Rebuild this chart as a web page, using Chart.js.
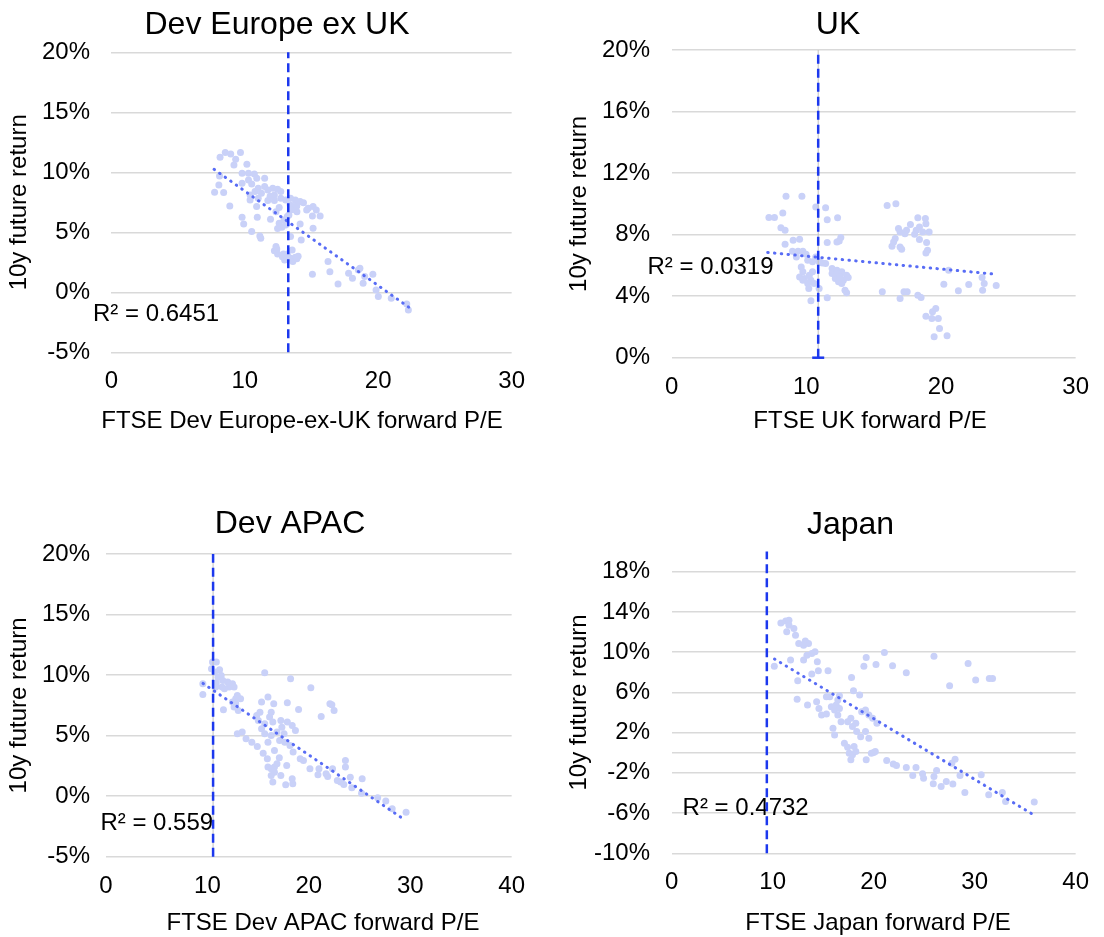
<!DOCTYPE html>
<html lang="en">
<head>
<meta charset="UTF-8">
<title>Forward P/E vs 10y future return</title>
<script src="https://cdn.jsdelivr.net/npm/chart.js"></script>
<style>
  body { margin: 0; background: #fff; }
  #page { position: relative; width: 1104px; height: 937px; }
  .panel { position: absolute; }
  canvas { display: block; }
</style>
</head>
<body>
<div id="page">
  <div class="panel" style="left:0px;top:0px"><canvas id="euro" width="540" height="440"></canvas></div>
  <div class="panel" style="left:560px;top:0px"><canvas id="uk" width="544" height="440"></canvas></div>
  <div class="panel" style="left:0px;top:460px"><canvas id="apac" width="540" height="477"></canvas></div>
  <div class="panel" style="left:560px;top:460px"><canvas id="japan" width="544" height="477"></canvas></div>
</div>

<script>
// ---- Dev Europe ex UK ----
const euroPE = [8.15, 8.54, 8.95, 9.32, 9.68, 9.19, 10.16, 8.11, 8.06, 7.74,
  8.42, 8.88, 9.8, 10.28, 10.72, 10.28, 9.8, 10.52, 11.01, 11.49,
  11.49, 11.25, 10.77, 10.4, 10.4, 11.01, 10.89, 11.73, 12.1, 12.46,
  12.7, 12.22, 11.73, 12.22, 12.7, 13.07, 13.43, 13.79, 14.15, 14.4,
  14.76, 15.12, 15.36, 15.65, 15.07, 14.64, 13.91, 13.67, 13.43, 13.31,
  13.19, 12.94, 12.58, 12.34, 9.8, 9.92, 10.94, 11.93, 12.58, 13.07,
  12.78, 12.46, 14.15, 15.12, 14.23, 13.43, 10.52, 11.13, 11.2, 12.34,
  12.22, 12.46, 12.82, 13.19, 13.55, 13.43, 13.79, 12.99, 13.6, 15.07,
  16.24, 16.38, 16.99, 17.78, 18.07, 18.51, 18.63, 18.99, 19.6, 18.87,
  19.84, 20.01, 20.98, 22.14, 22.26,
  13.4, 13.6, 13.9, 12.9, 13.3, 13.9, 14.0, 12.4, 11.9, 10.9];
const euroRet = [11.25, 11.64, 11.53, 11.08, 11.64, 10.61, 10.67, 9.69, 8.94, 8.33,
  8.31, 7.19, 9.92, 9.92, 9.86, 9.36, 9.08, 9.03, 8.67, 9.5,
  8.81, 8.25, 8.39, 8.11, 7.69, 7.83, 7.14, 8.53, 8.67, 8.58,
  8.39, 8.11, 7.64, 7.64, 7.83, 7.69, 7.83, 7.69, 7.56, 7.47,
  7.0, 7.14, 6.86, 6.36, 6.36, 6.86, 6.72, 7.14, 6.86, 6.44,
  6.31, 6.03, 7.06, 6.72, 6.25, 5.69, 6.25, 6.08, 5.75, 5.61,
  5.42, 5.31, 5.69, 5.33, 4.36, 4.64, 5.06, 4.69, 4.5, 3.81,
  3.47, 3.19, 2.97, 3.19, 3.53, 2.83, 2.92, 2.69, 2.56, 1.5,
  2.56, 1.72, 0.69, 1.58, 1.17, 1.86, 2.0, 1.31, 1.5, 0.75,
  0.19, -0.36, -0.5, -0.97, -1.47,
  7.3, 6.9, 7.2, 3.2, 2.9, 2.8, 3.0, 3.6, 8.0, 9.5];
const euroTrendPE = [7.7, 22.3];
const euroTrendRet = [10.25, -1.25];
const euroNowPE = 13.26;
const euroTicks = [-5, 0, 5, 10, 15, 20];

// ---- UK ----
const ukPE = [8.49, 9.67, 8.25, 7.22, 7.63, 8.11, 8.42, 8.42, 9.02, 9.5,
  8.97, 9.38, 9.74, 9.98, 9.26, 10.7, 11.43, 11.55, 12.32, 11.55,
  12.27, 12.56, 12.44, 10.7, 10.95, 10.46, 10.1, 11.19, 11.43, 9.62,
  9.74, 9.5, 9.86, 10.22, 10.46, 10.34, 10.1, 9.74, 10.18, 10.58,
  10.95, 10.34, 11.55, 11.91, 12.27, 12.63, 12.99, 13.11, 12.75, 12.39,
  12.15, 11.91, 12.63, 12.87, 12.99, 12.27, 12.51, 16.0, 16.65, 16.84,
  17.44, 17.73, 18.28, 18.84, 18.88, 18.4, 18.64, 19.12, 18.16, 18.04,
  17.32, 16.96, 16.6, 16.48, 16.36, 16.96, 17.08, 18.4, 18.93, 19.0,
  18.88, 15.64, 16.96, 17.25, 17.49, 18.28, 18.52, 20.21, 21.29, 22.06,
  23.09, 23.21, 23.05, 24.1, 20.57, 19.61, 19.37, 18.88, 19.32, 19.8,
  19.89, 19.49, 20.45];
const ukRet = [10.49, 10.49, 9.41, 9.11, 9.11, 8.45, 8.28, 7.37, 7.63, 7.7,
  6.92, 6.92, 6.92, 6.72, 6.55, 9.79, 9.75, 8.97, 9.1, 7.48,
  7.52, 7.81, 7.59, 6.55, 6.23, 6.23, 6.34, 6.16, 6.12, 5.9,
  5.58, 5.25, 5.15, 5.36, 5.58, 5.04, 4.82, 5.04, 4.5, 4.82,
  4.5, 3.7, 3.89, 5.79, 5.69, 5.58, 5.36, 5.21, 5.04, 4.93,
  5.15, 5.47, 4.82, 4.39, 4.22, 5.47, 5.25, 9.9, 10.01, 8.39,
  8.28, 8.65, 9.1, 9.04, 8.71, 8.5, 8.17, 8.17, 8.28, 8.02,
  8.06, 8.17, 7.74, 7.52, 7.24, 7.2, 7.05, 7.68, 7.48, 6.98,
  6.81, 4.28, 3.85, 4.28, 4.28, 4.06, 3.91, 4.78, 4.35, 4.76,
  4.39, 4.82, 5.21, 4.69, 5.69, 3.2, 2.98, 2.7, 2.55, 2.55,
  1.9, 1.36, 1.43];
const ukTrendPE = [7.13, 24.0];
const ukTrendRet = [6.84, 5.43];
const ukNowPE = 10.88;
const ukTicks = [0, 4, 8, 12, 16, 20];

// ---- Dev APAC ----
const apacPE = [9.55, 9.55, 10.5, 10.88, 10.4, 10.72, 11.2, 11.04, 11.36, 11.52,
  12.0, 12.47, 12.63, 12.15, 11.68, 11.45, 10.88, 10.82, 12.95, 13.27,
  12.79, 12.47, 12.63, 13.04, 11.58, 12.79, 15.65, 18.2, 20.2, 15.34,
  15.97, 16.54, 15.18, 14.86, 15.02, 16.29, 16.13, 15.65, 15.34, 15.65,
  16.45, 17.24, 17.88, 18.36, 18.68, 17.88, 18.99, 17.34, 17.56, 16.86,
  16.29, 15.97, 16.61, 17.12, 17.63, 18.14, 18.45, 19.15, 19.47, 12.95,
  13.43, 13.81, 14.38, 14.92, 15.5, 15.91, 15.97, 16.29, 16.61, 16.86,
  17.09, 17.82, 16.61, 16.29, 17.24, 16.45, 17.72, 18.42, 18.36, 21.22,
  22.08, 22.27, 22.49, 20.11, 21.0, 20.9, 21.7, 21.86, 22.34, 22.81,
  23.13, 23.45, 23.61, 23.61, 24.09, 24.24, 25.26, 25.2, 26.79, 27.59,
  28.22, 29.59];
const apacRet = [9.28, 8.4, 11.07, 11.07, 10.52, 10.25, 10.44, 9.83, 9.97, 9.56,
  9.42, 9.28, 9.01, 9.01, 8.87, 9.01, 9.34, 9.01, 8.32, 8.04,
  8.04, 7.77, 7.36, 7.08, 7.13, 7.63, 10.19, 9.7, 8.95, 7.77,
  8.18, 7.63, 6.94, 6.67, 6.25, 6.94, 6.53, 5.98, 5.56, 5.15,
  6.12, 6.25, 6.12, 5.84, 5.43, 7.71, 7.16, 5.7, 5.15, 5.29,
  5.01, 4.46, 3.77, 4.6, 4.46, 4.19, 3.64, 3.09, 2.95, 5.15,
  5.29, 4.74, 4.46, 4.1, 3.55, 3.09, 2.4, 2.26, 2.4, 2.67,
  3.17, 2.53, 1.98, 1.71, 1.71, 1.16, 0.94, 1.02, 1.43, 6.58,
  7.63, 7.55, 7.08, 2.26, 2.26, 1.76, 1.85, 1.63, 2.26, 1.29,
  1.16, 0.96, 2.95, 2.4, 1.57, 0.69, 1.43, 0.25, -0.14, -0.41,
  -1.05, -1.32];
const apacTrendPE = [9.57, 29.5];
const apacTrendRet = [9.31, -1.98];
const apacNowPE = 10.56;
const apacTicks = [-5, 0, 5, 10, 15, 20];

// ---- Japan ----
const japanPE = [10.81, 11.29, 11.61, 11.61, 12.1, 11.39, 12.26, 12.58, 13.23, 13.55,
  13.06, 10.16, 11.77, 13.06, 13.39, 13.87, 14.19, 14.42, 14.52, 13.87,
  15.48, 12.48, 19.26, 19.03, 20.23, 21.06, 21.87, 23.23, 25.97, 29.35,
  30.1, 31.45, 31.77, 27.52, 17.81, 18.0, 18.61, 15.65, 16.61, 16.45,
  15.32, 12.42, 13.45, 14.35, 14.58, 14.84, 15.32, 15.81, 16.13, 16.29,
  16.61, 16.45, 16.77, 17.42, 17.74, 18.23, 17.9, 18.32, 15.97, 16.13,
  18.81, 19.19, 19.52, 19.9, 20.32, 19.19, 19.52, 18.71, 17.1, 17.42,
  17.58, 17.9, 18.06, 17.74, 18.23, 19.26, 19.77, 20.16, 20.0, 21.29,
  21.94, 22.26, 23.23, 24.19, 23.87, 24.94, 24.84, 25.97, 26.23, 25.9,
  26.68, 27.19, 27.84, 28.06, 27.74, 28.55, 29.03, 30.65, 31.39, 32.74,
  33.06, 35.9];
const japanRet = [12.91, 13.11, 13.17, 12.68, 12.35, 12.02, 11.69, 10.86, 11.12, 10.86,
  10.69, 8.61, 9.21, 9.21, 9.7, 9.87, 10.03, 9.04, 8.15, 7.82,
  8.15, 7.16, 9.47, 8.61, 8.78, 9.97, 8.64, 7.95, 9.6, 8.88,
  7.22, 7.39, 7.39, 6.66, 7.49, 6.17, 5.74, 5.57, 5.67, 5.24,
  5.57, 5.31, 4.74, 5.07, 4.41, 3.75, 3.85, 4.58, 4.25, 4.74,
  4.41, 3.75, 3.09, 3.09, 3.42, 2.93, 2.6, 2.1, 2.43, 1.77,
  4.08, 4.25, 3.75, 3.42, 2.93, 2.1, 1.44, 1.6, 0.94, 0.55,
  -0.05, -0.21, 0.61, -0.71, 0.12, -0.71, -0.05, 0.12, 0.02, -0.78,
  -1.11, -1.27, -1.47, -1.47, -2.26, -2.53, -2.1, -2.36, -1.77, -3.09,
  -3.36, -2.86, -3.12, -0.64, -1.04, -2.26, -3.95, -2.2, -4.18, -3.95,
  -4.84, -4.91];
const japanTrendPE = [10.18, 35.7];
const japanTrendRet = [9.32, -6.09];
const japanNowPE = 9.42;
const japanTicks = [-10, -6, -2, 0, 2, 6, 10, 14, 18]; // 0 = horizontal axis line, no label

const FONT = '"Liberation Sans", Arial, Helvetica, sans-serif';
Chart.defaults.font.family = FONT;
Chart.defaults.color = '#000';

const pointColor = '#c9d1f8';
const trendColor = 'rgb(88, 108, 245)';
const nowColor = 'rgb(28, 56, 238)';

// panel title, x axis title and the R² label
const decor = {
  id: 'decor',
  beforeDatasetsDraw(chart, args, o) {
    const { ctx, scales: { x, y } } = chart;
    ctx.save();
    ctx.font = '24px ' + FONT;
    ctx.fillStyle = '#000';
    ctx.textAlign = 'left';
    ctx.textBaseline = 'middle';
    ctx.fillText(o.r2Text, x.getPixelForValue(o.r2X), y.getPixelForValue(o.r2Y));
    ctx.restore();
  },
  afterDraw(chart, args, o) {
    const ctx = chart.ctx;
    ctx.save();
    ctx.fillStyle = '#000';
    ctx.textAlign = 'center';
    ctx.textBaseline = 'middle';
    ctx.font = '32px ' + FONT;
    ctx.fillText(o.title, o.titleX, o.titleY);
    ctx.font = '24px ' + FONT;
    ctx.fillText(o.xTitle, o.xTitleX, o.xTitleY);
    ctx.restore();
  }
};

function pairs(xs, ys) {
  return xs.map((v, i) => ({ x: v, y: ys[i] }));
}

function makeChart(id, c) {
  const canvas = document.getElementById(id);
  const W = canvas.width, H = canvas.height;
  const datasets = [
    {
      // current P/E marker
      data: [{ x: c.nowPE, y: c.yMin }, { x: c.nowPE, y: c.yMax }],
      showLine: true,
      borderColor: nowColor,
      borderWidth: 2.5,
      borderDash: [9, 5],
      pointRadius: [c.cap ? 6 : 0, 0],
      pointStyle: 'line',
      pointBorderColor: nowColor,
      pointBorderWidth: 2.5,
      clip: false
    },
    {
      data: pairs(c.trendPE, c.trendRet),
      showLine: true,
      borderColor: trendColor,
      borderWidth: 3,
      borderDash: [0.5, 6.3],
      borderCapStyle: 'round',
      pointRadius: 0
    }
  ];
  if (c.axisLine) {
    datasets.push({
      data: [{ x: c.nowPE, y: c.yMin }, { x: c.nowPE, y: c.yMax }],
      showLine: true,
      borderColor: '#bfbfbf',
      borderWidth: 1,
      pointRadius: 0
    });
  }
  datasets.push({
    data: pairs(c.pe, c.ret),
    backgroundColor: pointColor,
    borderWidth: 0,
    pointRadius: 3.5,
    pointHoverRadius: 3.5
  });

  return new Chart(canvas, {
    type: 'scatter',
    data: { datasets: datasets },
    options: {
      responsive: false,
      animation: false,
      events: [],
      layout: { padding: { left: 0, top: c.box.top, right: W - c.box.right, bottom: 0 } },
      plugins: {
        legend: { display: false },
        tooltip: { enabled: false },
        decor: { title: c.title, titleX: c.titleX, titleY: c.titleY,
                 xTitle: c.xTitle, xTitleX: c.xTitleX, xTitleY: c.xTitleY,
                 r2Text: c.r2Text, r2X: c.r2X, r2Y: c.r2Y }
      },
      scales: {
        x: {
          type: 'linear',
          min: 0,
          max: c.xMax,
          ticks: { stepSize: 10, padding: 15, font: { size: 24 }, color: '#000' },
          grid: { display: false, drawTicks: false },
          border: { display: false },
          afterFit: s => { s.height = H - c.box.bottom; }
        },
        y: {
          type: 'linear',
          min: c.yMin,
          max: c.yMax,
          afterBuildTicks: s => { s.ticks = c.yTicks.map(v => ({ value: v })); },
          ticks: {
            padding: c.box.left - 90,
            font: { size: 24 },
            color: '#000',
            callback: v => (c.hideZero && v === 0) ? '' : v + '%'
          },
          grid: { color: '#d9d9d9', lineWidth: 1.5, drawTicks: false },
          border: { display: false },
          title: { display: true, text: '10y future return', font: { size: 24 }, color: '#000',
                   padding: { top: 5, bottom: 0 } },
          afterFit: s => { s.width = c.box.left; }
        }
      }
    },
    plugins: [decor]
  });
}

makeChart('euro', {
  pe: euroPE, ret: euroRet, trendPE: euroTrendPE, trendRet: euroTrendRet,
  nowPE: euroNowPE, yMin: -5, yMax: 20, yTicks: euroTicks, xMax: 30,
  title: 'Dev Europe ex UK', titleX: 277, titleY: 25,
  xTitle: 'FTSE Dev Europe-ex-UK forward P/E', xTitleX: 302, xTitleY: 421.7,
  r2Text: 'R² = 0.6451', r2X: -1.37, r2Y: -1.8,
  box: { left: 111.3, right: 525.3, top: 52.3, bottom: 352.3 }
});

makeChart('uk', {
  pe: ukPE, ret: ukRet, trendPE: ukTrendPE, trendRet: ukTrendRet,
  nowPE: ukNowPE, yMin: 0, yMax: 20, yTicks: ukTicks, xMax: 30,
  title: 'UK', titleX: 278, titleY: 25, axisLine: true, cap: true,
  xTitle: 'FTSE UK forward P/E', xTitleX: 310, xTitleY: 421.7,
  r2Text: 'R² = 0.0319', r2X: -1.8, r2Y: 5.9,
  box: { left: 111.7, right: 527.3, top: 50, bottom: 357.7 }
});

makeChart('apac', {
  pe: apacPE, ret: apacRet, trendPE: apacTrendPE, trendRet: apacTrendRet,
  nowPE: apacNowPE, yMin: -5, yMax: 20, yTicks: apacTicks, xMax: 40,
  title: 'Dev APAC', titleX: 290, titleY: 64, axisLine: true,
  xTitle: 'FTSE Dev APAC forward P/E', xTitleX: 323, xTitleY: 463,
  r2Text: 'R² = 0.559', r2X: -0.55, r2Y: -2.25,
  box: { left: 106, right: 525, top: 94, bottom: 396.7 }
});

makeChart('japan', {
  pe: japanPE, ret: japanRet, trendPE: japanTrendPE, trendRet: japanTrendRet,
  nowPE: japanNowPE, yMin: -10, yMax: 20, yTicks: japanTicks, hideZero: true, xMax: 40,
  title: 'Japan', titleX: 290.5, titleY: 65.5,
  xTitle: 'FTSE Japan forward P/E', xTitleX: 318, xTitleY: 463,
  r2Text: 'R² = 0.4732', r2X: 1.08, r2Y: -5.5,
  box: { left: 111.7, right: 525, top: 91.6, bottom: 393.3 }
});
</script>
</body>
</html>
